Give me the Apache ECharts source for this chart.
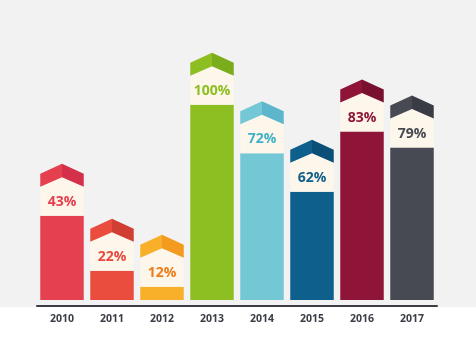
<!DOCTYPE html>
<html>
<head>
<meta charset="utf-8">
<script src="https://cdn.jsdelivr.net/npm/echarts@6/dist/echarts.min.js"></script>
<style>html,body{margin:0;padding:0;background:#fff;}#c{width:476px;height:360px;}</style>
</head>
<body>
<div id="c"></div>
<script>
// Categories (years)
const years = ['2010', '2011', '2012', '2013', '2014', '2015', '2016', '2017'];
// Printed percentage labels
const percentLabels = [43, 22, 12, 100, 72, 62, 83, 79];
// Bar heights as drawn in the picture (relative to the 2013 bar = 100)
const barHeights = [43.1, 15.0, 6.8, 100, 75.2, 55.5, 86.3, 78.1];
// Colours
const bodyColors = ['#e5404f', '#ea4c3e', '#f8b02a', '#8dbf22', '#74c7d5', '#0e5f8c', '#8f1538', '#474a53'];
const capDarkColors = ['#d3304a', '#d13f34', '#f39a1f', '#7aac1c', '#5db7cc', '#0b4f78', '#7a1030', '#3a3c45'];
const textColors = ['#e5404f', '#e84a3c', '#ee7d1a', '#8dbf22', '#3cb2c6', '#0e5f8c', '#8f1538', '#474a53'];
const cream = '#fdf6ea';

const chart = echarts.init(document.getElementById('c'), null, {renderer: 'canvas'});

function renderItem(params, api) {
  const idx = params.dataIndex;
  const x = api.value(0), v = api.value(1);
  const top = api.coord([x, v]);
  const base = api.coord([x, 0]);
  const w = api.size([1, 0])[0] * 0.87;
  const cx = top[0], l = cx - w / 2, r = cx + w / 2, B = top[1];
  return {
    type: 'group',
    children: [
      {type: 'rect', shape: {x: l, y: B, width: w, height: base[1] - B}, style: {fill: bodyColors[idx]}},
      {type: 'polygon', shape: {points: [[l, B - 29], [cx, B - 38.5], [r, B - 29], [r, B], [l, B]]}, style: {fill: cream}},
      {type: 'polygon', shape: {points: [[l, B - 42], [cx, B - 52], [cx, B - 38.5], [l, B - 29]]}, style: {fill: bodyColors[idx]}},
      {type: 'polygon', shape: {points: [[cx, B - 52], [r, B - 42], [r, B - 29], [cx, B - 38.5]]}, style: {fill: capDarkColors[idx]}},
      {type: 'text', style: {x: cx, y: B - 14, text: percentLabels[idx] + '%', align: 'center', verticalAlign: 'middle',
        fill: textColors[idx], font: 'bold 14px "Open Sans", sans-serif'}}
    ]
  };
}

chart.setOption({
  backgroundColor: '#ffffff',
  animation: false,
  graphic: [{type: 'rect', left: 0, top: 0, z: -10, shape: {width: 476, height: 307}, style: {fill: '#f2f2f2'}}],
  grid: {left: 37, right: 39, top: 56, bottom: 54},
  xAxis: {
    type: 'category', data: years,
    axisLine: {onZero: false, lineStyle: {color: '#3b3d46', width: 2}},
    axisTick: {show: false},
    axisLabel: {color: '#3a3d45', fontWeight: 'bold', fontSize: 10.5, fontFamily: '"Open Sans", sans-serif', margin: 8}
  },
  yAxis: {type: 'value', min: -3.08, max: 125, show: false, splitLine: {show: false}},
  series: [{
    type: 'custom',
    renderItem: renderItem,
    data: barHeights.map((h, i) => [i, h])
  }]
});
</script>
</body>
</html>
